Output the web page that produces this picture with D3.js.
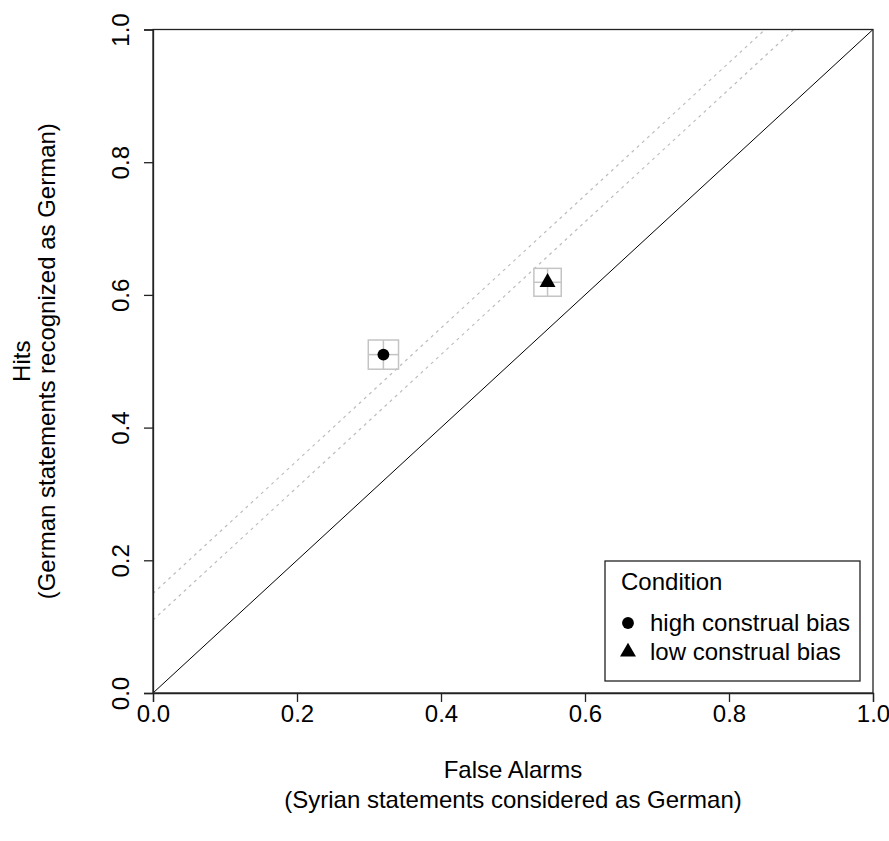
<!DOCTYPE html>
<html>
<head>
<meta charset="utf-8">
<script src="https://cdn.jsdelivr.net/npm/d3@7"></script>
<style>
  html, body { margin: 0; padding: 0; background: #fff; }
  svg { display: block; font-family: "Liberation Sans", Arial, sans-serif; }
</style>
</head>
<body>
<svg id="chart" width="889" height="841"></svg>
<script>
// Condition means (false alarm rate, hit rate) with their error half-widths
const conditions = ["high construal bias", "low construal bias"];
const falseAlarms = [0.32, 0.548];
const hits = [0.51, 0.619];
const falseAlarmErr = [0.021, 0.019];
const hitErr = [0.022, 0.021];
const markerShapes = ["circle", "triangle"];

// Reference lines parallel to the chance diagonal (intercepts on the Hits axis)
const guideIntercepts = [0.15, 0.11];

// Axis ticks
const tickValues = [0, 0.2, 0.4, 0.6, 0.8, 1.0];

const svg = d3.select("#chart");
const plotLeft = 153, plotRight = 873, plotTop = 29.5, plotBottom = 693;

const x = d3.scaleLinear().domain([0, 1]).range([plotLeft, plotRight]);
const y = d3.scaleLinear().domain([0, 1]).range([plotBottom, plotTop]);

const fontSize = 24;

// Plot region clip for the guide lines
svg.append("defs").append("clipPath").attr("id", "plotClip")
  .append("rect")
  .attr("x", x(0)).attr("y", y(1))
  .attr("width", x(1) - x(0)).attr("height", y(0) - y(1));

// Dashed guide lines
const plot = svg.append("g").attr("clip-path", "url(#plotClip)");
guideIntercepts.forEach(b => {
  plot.append("line")
    .attr("x1", x(0)).attr("y1", y(b))
    .attr("x2", x(1 - b)).attr("y2", y(1))
    .attr("stroke", "#bdbdbd")
    .attr("stroke-width", 1.2)
    .attr("stroke-dasharray", "3,4");
});

// Chance diagonal
plot.append("line")
  .attr("x1", x(0)).attr("y1", y(0))
  .attr("x2", x(1)).attr("y2", y(1))
  .attr("stroke", "#000")
  .attr("stroke-width", 1);

// Error boxes with crosshairs
const pts = conditions.map((c, i) => ({
  c, fa: falseAlarms[i], h: hits[i], ex: falseAlarmErr[i], ey: hitErr[i], shape: markerShapes[i]
}));

const errG = svg.append("g");
pts.forEach(p => {
  errG.append("rect")
    .attr("x", x(p.fa - p.ex)).attr("y", y(p.h + p.ey))
    .attr("width", x(p.fa + p.ex) - x(p.fa - p.ex))
    .attr("height", y(p.h - p.ey) - y(p.h + p.ey))
    .attr("fill", "none").attr("stroke", "#c4c4c4").attr("stroke-width", 1.5);
  errG.append("line")
    .attr("x1", x(p.fa - p.ex)).attr("x2", x(p.fa + p.ex))
    .attr("y1", y(p.h)).attr("y2", y(p.h))
    .attr("stroke", "#c4c4c4").attr("stroke-width", 1.5);
  errG.append("line")
    .attr("x1", x(p.fa)).attr("x2", x(p.fa))
    .attr("y1", y(p.h - p.ey)).attr("y2", y(p.h + p.ey))
    .attr("stroke", "#c4c4c4").attr("stroke-width", 1.5);
});

const symCircle = d3.symbol().type(d3.symbolCircle).size(110);
const symTri = d3.symbol().type(d3.symbolTriangle).size(110);

svg.append("g").selectAll("path")
  .data(pts)
  .join("path")
  .attr("transform", d => `translate(${x(d.fa)},${y(d.h)})`)
  .attr("d", d => d.shape === "circle" ? symCircle() : symTri())
  .attr("fill", "#000");

// Plot frame
svg.append("rect")
  .attr("x", x(0)).attr("y", y(1))
  .attr("width", x(1) - x(0)).attr("height", y(0) - y(1))
  .attr("fill", "none").attr("stroke", "#222").attr("stroke-width", 1.3);

// Axes
const fmt = d3.format(".1f");
const xAxis = svg.append("g")
  .attr("transform", `translate(0,${y(0)})`)
  .call(d3.axisBottom(x).tickValues(tickValues).tickFormat(fmt).tickSize(9).tickPadding(20));
const yAxis = svg.append("g")
  .attr("transform", `translate(${x(0)},0)`)
  .call(d3.axisLeft(y).tickValues(tickValues).tickFormat(fmt).tickSize(9));

[xAxis, yAxis].forEach(g => {
  g.select(".domain").attr("stroke", "#222").attr("stroke-width", 1.3);
  g.selectAll(".tick line").attr("stroke", "#222").attr("stroke-width", 1.3);
  g.selectAll(".tick text")
    .attr("font-size", fontSize)
    .attr("font-family", "Liberation Sans, Arial, sans-serif")
    .attr("fill", "#000");
});
xAxis.selectAll(".tick text").attr("dy", "0");
yAxis.selectAll(".tick text")
  .attr("x", null).attr("dy", null)
  .attr("transform", "translate(-33,0) rotate(-90)")
  .attr("text-anchor", "middle")
  .attr("dominant-baseline", "central");

// Axis titles
const xTitle = svg.append("text")
  .attr("text-anchor", "middle").attr("font-size", fontSize).attr("fill", "#000");
xTitle.append("tspan").attr("x", (plotLeft + plotRight) / 2).attr("y", 778).text("False Alarms");
xTitle.append("tspan").attr("x", (plotLeft + plotRight) / 2).attr("y", 808).text("(Syrian statements considered as German)");

const yMid = (plotTop + plotBottom) / 2;
const yTitle = svg.append("text")
  .attr("text-anchor", "middle").attr("font-size", fontSize).attr("fill", "#000")
  .attr("transform", `translate(0,${yMid}) rotate(-90)`);
yTitle.append("tspan").attr("x", 0).attr("y", 30).text("Hits");
yTitle.append("tspan").attr("x", 0).attr("y", 55).text("(German statements recognized as German)");

// Legend
const lg = svg.append("g");
lg.append("rect")
  .attr("x", 605).attr("y", 561).attr("width", 255).attr("height", 120)
  .attr("fill", "#fff").attr("stroke", "#222").attr("stroke-width", 1.3);
lg.append("text")
  .attr("x", 621).attr("y", 590).attr("font-size", fontSize).attr("fill", "#000")
  .text("Condition");
pts.forEach((p, i) => {
  const cy = 623 + i * 29;
  lg.append("path")
    .attr("transform", `translate(628,${cy})`)
    .attr("d", p.shape === "circle" ? symCircle() : symTri())
    .attr("fill", "#000");
  lg.append("text")
    .attr("x", 650).attr("y", cy).attr("dy", "0.35em")
    .attr("font-size", fontSize).attr("fill", "#000")
    .text(p.c);
});
</script>
</body>
</html>
